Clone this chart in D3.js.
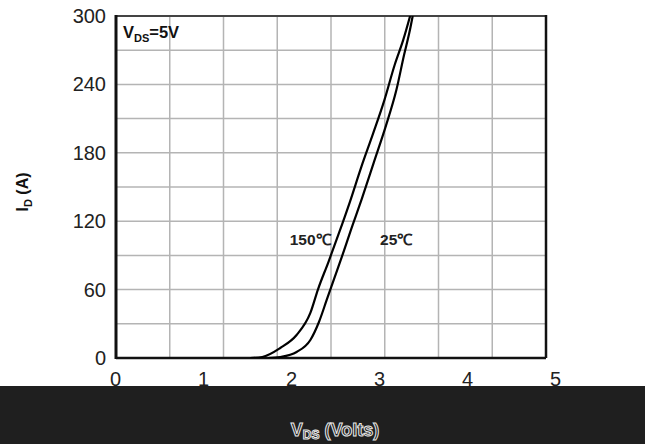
<!DOCTYPE html>
<html>
<head>
<meta charset="utf-8">
<script src="https://cdn.jsdelivr.net/npm/d3@7"></script>
<style>
  html, body { margin: 0; padding: 0; background: #fff; }
  svg { display: block; font-family: "Liberation Sans", Arial, sans-serif; }
</style>
</head>
<body>
<svg id="chart" width="645" height="444"></svg>
<script>
// Transfer characteristics: drain current vs gate drive at two junction temperatures
const yTicks = [0, 60, 120, 180, 240, 300];
const xTicks = [0, 1, 2, 3, 4, 5];

const volts150 = [1.56, 1.70, 1.91, 2.10, 2.26, 2.35, 2.47, 2.59, 2.72, 2.85, 2.99, 3.12, 3.24, 3.34, 3.42];
const amps150  = [0,    0.9,  8.8,  20.2, 39.5, 60.5, 84.2, 109,  137,  167,  197,  226,  257,  279,  300];

const volts25  = [1.77, 1.91, 2.10, 2.26, 2.36, 2.45, 2.54, 2.63, 2.73, 2.86, 3.00, 3.14, 3.26, 3.35, 3.41, 3.45];
const amps25   = [0,    0.9,  5.3,  15.8, 31.6, 50.9, 70.2, 89.5, 112,  140,  172,  204,  235,  266,  285,  300];

const seriesNames = ["150\u2103", "25\u2103"];

const svg = d3.select("#chart");
const W = 645, H = 444;
const plot = { left: 116, right: 546, top: 16, bottom: 358 };

const x = d3.scaleLinear().domain([0, 5]).range([plot.left, plot.right]);
const xLabel = d3.scaleLinear().domain([0, 5]).range([115, 555]);
const y = d3.scaleLinear().domain([0, 300]).range([plot.bottom, plot.top]);

// dark footer band carrying the x-axis title
svg.append("rect")
  .attr("x", 0).attr("y", 386).attr("width", W).attr("height", H - 386)
  .attr("fill", "#1f1f1f");

// grid
const grid = svg.append("g");
grid.selectAll("line.h")
  .data(d3.range(30, 300, 30))
  .join("line")
  .attr("x1", plot.left).attr("x2", plot.right)
  .attr("y1", d => y(d)).attr("y2", d => y(d))
  .attr("stroke", "#b4b4b4").attr("stroke-width", 1.5);
grid.selectAll("line.v")
  .data(d3.range(1, 8).map(i => i * 5 / 8))
  .join("line")
  .attr("x1", d => x(d)).attr("x2", d => x(d))
  .attr("y1", plot.top).attr("y2", plot.bottom)
  .attr("stroke", "#b4b4b4").attr("stroke-width", 1.5);

// frame
svg.append("line").attr("x1", plot.left).attr("x2", plot.right)
  .attr("y1", plot.top).attr("y2", plot.top)
  .attr("stroke", "#444").attr("stroke-width", 2);
svg.append("line").attr("x1", plot.right).attr("x2", plot.right)
  .attr("y1", plot.top - 1).attr("y2", plot.bottom)
  .attr("stroke", "#111").attr("stroke-width", 2.5);
svg.append("line").attr("x1", plot.left).attr("x2", plot.left)
  .attr("y1", plot.top - 1).attr("y2", plot.bottom + 1)
  .attr("stroke", "#111").attr("stroke-width", 3);
svg.append("line").attr("x1", plot.left).attr("x2", plot.right)
  .attr("y1", plot.bottom).attr("y2", plot.bottom)
  .attr("stroke", "#111").attr("stroke-width", 2.5);

// curves
svg.append("clipPath").attr("id", "plotClip")
  .append("rect").attr("x", plot.left).attr("y", plot.top)
  .attr("width", plot.right - plot.left).attr("height", plot.bottom - plot.top);

const line = d3.line()
  .x(d => x(d[0])).y(d => y(d[1]))
  .curve(d3.curveMonotoneX);

const curves = [d3.zip(volts150, amps150), d3.zip(volts25, amps25)];
svg.append("g").attr("clip-path", "url(#plotClip)")
  .selectAll("path")
  .data(curves)
  .join("path")
  .attr("d", line)
  .attr("fill", "none")
  .attr("stroke", "#000")
  .attr("stroke-width", 2.2);

// curve labels
svg.append("text").attr("x", x(2.02)).attr("y", y(99))
  .attr("font-size", 15.5).attr("font-weight", "bold").attr("fill", "#222")
  .text(seriesNames[0]);
svg.append("text").attr("x", x(3.07)).attr("y", y(99))
  .attr("font-size", 15.5).attr("font-weight", "bold").attr("fill", "#222")
  .text(seriesNames[1]);

// condition note
const note = svg.append("text").attr("x", 123).attr("y", 38)
  .attr("font-size", 16.5).attr("font-weight", "bold").attr("fill", "#111");
note.append("tspan").text("V");
note.append("tspan").attr("font-size", 11).attr("dy", 4).text("DS");
note.append("tspan").attr("dy", -4).text("=5V");

// y axis labels
const yAxis = svg.append("g")
  .attr("transform", "translate(106,0)")
  .call(d3.axisLeft(y).tickValues(yTicks).tickSize(0).tickPadding(0));
yAxis.select(".domain").remove();
yAxis.selectAll("text").attr("font-size", 20).attr("fill", "#222")
  .attr("font-family", "'Liberation Sans', Arial, sans-serif");

// x axis labels
const xAxis = svg.append("g")
  .attr("transform", "translate(0,372)")
  .call(d3.axisBottom(xLabel).tickValues(xTicks).tickFormat(d3.format("d"))
    .tickSize(0).tickPadding(0));
xAxis.select(".domain").remove();
xAxis.selectAll("text").attr("font-size", 20).attr("fill", "#222")
  .attr("font-family", "'Liberation Sans', Arial, sans-serif");

// axis titles
const xt = svg.append("text").attr("x", 335).attr("y", 436)
  .attr("text-anchor", "middle")
  .attr("font-size", 18).attr("font-weight", "bold")
  .attr("fill", "#1f1f1f").attr("stroke", "#e8e8e8").attr("stroke-width", 1);
xt.append("tspan").text("V");
xt.append("tspan").attr("font-size", 12).attr("dy", 3).text("DS");
xt.append("tspan").attr("dy", -3).text(" (Volts)");

const yt = svg.append("text")
  .attr("transform", "translate(28,192) rotate(-90)")
  .attr("text-anchor", "middle")
  .attr("font-size", 16).attr("font-weight", "bold").attr("fill", "#111");
yt.append("tspan").text("I");
yt.append("tspan").attr("font-size", 11).attr("dy", 4).text("D");
yt.append("tspan").attr("dy", -4).text(" (A)");
</script>
</body>
</html>
